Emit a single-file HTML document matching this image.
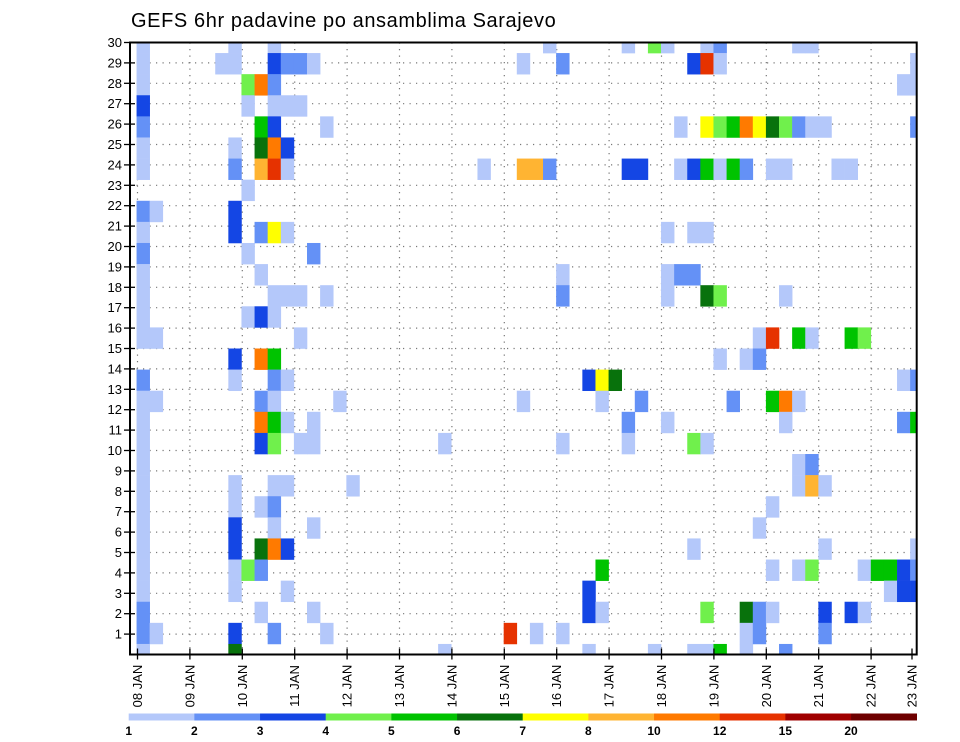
<!DOCTYPE html>
<html><head><meta charset="utf-8">
<style>
html,body{margin:0;padding:0;background:#fff;}
svg{display:block;font-family:"Liberation Sans",sans-serif;}
</style></head>
<body>
<svg id="chart" width="960" height="742" viewBox="0 0 960 742" xmlns="http://www.w3.org/2000/svg">
<text x="131" y="27" font-size="20" fill="#000" style="letter-spacing:0.6px">GEFS 6hr padavine po ansamblima Sarajevo</text>
<defs><clipPath id="plotclip"><rect x="130" y="42.5" width="786.7" height="612"/></clipPath></defs>
<g id="grid"></g>
<g id="cells" clip-path="url(#plotclip)"></g>
<g id="axes"></g>
<g id="legend"></g>
</svg>
<script>
// ---- data ----
const colIdx = [1,2,7,8,9,10,11,12,13,14,15,16,17,24,27,29,30,31,32,33,35,36,37,38,39,40,41,42,43,44,45,46,47,48,49,50,51,52,53,54,55,56,57,58,59,60];
const colRows = [
 [29,28,27,26,25,24,23,21,20,19,18,17,16,15,13,12,11,10,9,8,7,6,5,4,3,2,1,0],
 [21,15,12,1],[28],
 [29,28,24,23,21,20,14,13,8,7,6,5,4,3,1,0],
 [27,26,22,19,16,4],
 [27,25,24,23,20,18,16,14,12,11,10,7,5,4,2],
 [29,28,27,26,25,24,23,20,17,16,14,13,12,11,10,8,7,6,5,1],
 [28,26,24,23,20,17,13,11,8,5,3],
 [28,26,17,15,10],[28,19,11,10,6,2],[25,17,1],[12],[8],
 [10,0],[23],[1],[28,23,12],[23,1],[29,23],[28,18,17,10,1],
 [13,3,2,0],[13,12,4,2],[13],[29,23,11,10],[23,12],[29,0],
 [29,20,18,17,11],[25,23,18],[28,23,20,18,10,5,0],
 [29,28,25,23,20,17,10,2,0],[29,28,25,23,17,14,0],[25,23,12],
 [25,23,14,2,1,0],[25,15,14,6,2,1],[25,23,15,12,7,4,2],
 [25,23,17,12,11,0],[29,25,15,12,9,8,4],[29,25,15,9,8,4],
 [25,8,5,2,1],[23],[23,15,2],[15,4,2],[4],[4,3],[27,13,11,4,3],
 [28,27,25,13,11,5,4,3]
];
const colVals = [
 [1.5,1.5,1.5,3.5,2.5,1.5,1.5,2.5,1.5,2.5,1.5,1.5,1.5,1.5,2.5,1.5,1.5,1.5,1.5,1.5,1.5,1.5,1.5,1.5,1.5,2.5,2.5,1.5],
 [1.5,1.5,1.5,1.5],[1.5],
 [1.5,1.5,1.5,2.5,3.5,3.5,3.5,1.5,1.5,1.5,3.5,3.5,1.5,1.5,3.5,6.5],
 [4.5,1.5,1.5,1.5,1.5,4.5],
 [11,5.5,6.5,9,2.5,1.5,3.5,11,2.5,11,3.5,1.5,6.5,2.5,1.5],
 [1.5,3.5,2.5,1.5,3.5,11,13.5,7.5,1.5,1.5,5.5,2.5,1.5,5.5,4.5,1.5,2.5,1.5,11,2.5],
 [2.5,1.5,3.5,1.5,1.5,1.5,1.5,1.5,1.5,3.5,1.5],
 [2.5,1.5,1.5,1.5,1.5],[1.5,2.5,1.5,1.5,1.5,1.5],[1.5,1.5,1.5],[1.5],[1.5],
 [1.5,1.5],[1.5],[13.5],[1.5,9,1.5],[9,1.5],[1.5,2.5],[2.5,1.5,2.5,1.5,1.5],
 [3.5,3.5,3.5,1.5],[7.5,1.5,5.5,1.5],[6.5],[1.5,3.5,2.5,1.5],[3.5,2.5],[4.5,1.5],
 [1.5,1.5,1.5,1.5,1.5],[1.5,1.5,2.5],[3.5,3.5,1.5,2.5,4.5,1.5,1.5],
 [1.5,13.5,7.5,5.5,1.5,6.5,1.5,4.5,1.5],[2.5,1.5,4.5,1.5,4.5,1.5,5.5],[5.5,5.5,2.5],
 [11,2.5,1.5,6.5,1.5,1.5],[7.5,1.5,2.5,1.5,2.5,2.5],[6.5,1.5,13.5,5.5,1.5,1.5,1.5],
 [4.5,1.5,1.5,11,1.5,2.5],[1.5,2.5,5.5,1.5,1.5,1.5,1.5],[1.5,1.5,1.5,2.5,9,4.5],
 [1.5,1.5,1.5,3.5,2.5],[1.5],[1.5,5.5,3.5],[4.5,1.5,1.5],[5.5],[5.5,1.5],[1.5,1.5,2.5,3.5,3.5],
 [1.5,1.5,2.5,2.5,5.5,1.5,2.5,3.5]
];
const levels = [1,2,3,4,5,6,7,8,10,12,15,20];
const levelColors = ["#b4c8fa","#6491f6","#1446e4","#70f04c","#00c300","#08720c","#ffff00","#ffb432","#ff7a00","#e63200","#a00000","#6e0000"];
const dayLabels = ["08","09","10","11","12","13","14","15","16","17","18","19","20","21","22","23"];
const memberTicks = [1,2,3,4,5,6,7,8,9,10,11,12,13,14,15,16,17,18,19,20,21,22,23,24,25,26,27,28,29,30];

// ---- scales ----
const X0=130, X1=916.7, Y0=42.5, Y1=654.5;
const NSTEP=60, NMEM=29;
const cw=(X1-X0)/NSTEP, ch=(Y1-Y0)/NMEM;
function xCell(k){return X0+k*cw;}
function yCell(j){return Y1-j*ch;}
function xDay(d){return 137.5+d*52.4;}
function yTick(r){return Y1-r*(Y1-Y0)/30;}
function colorFor(v){let c=null;for(let i=0;i<levels.length;i++){if(v>=levels[i])c=levelColors[i];}return c;}
const NS="http://www.w3.org/2000/svg";
function mk(tag,attrs,parent){const e=document.createElementNS(NS,tag);for(const a in attrs)e.setAttribute(a,attrs[a]);parent.appendChild(e);return e;}

const grid=document.getElementById('grid');
const cells=document.getElementById('cells');
const axes=document.getElementById('axes');
const legend=document.getElementById('legend');

// grid lines
memberTicks.forEach(r=>{
  const l=mk('line',{x1:X0,x2:X1,y1:yTick(r),y2:yTick(r),stroke:"#777","stroke-width":1.2,"stroke-dasharray":"1.2 5.3"},grid);
  
  
});
dayLabels.forEach((d,i)=>{
  const x=xDay(i); if(x<=X0+2||x>=X1-2) return;
  const l=mk('line',{x1:x,x2:x,y1:Y0,y2:Y1,stroke:"#777","stroke-width":1.2,"stroke-dasharray":"1.2 5.3"},grid);
  
  
});

// cells
colIdx.forEach((k,ci)=>{
  colRows[ci].forEach((j,ri)=>{
    const v=colVals[ci][ri];
    const r=mk('rect',{x:xCell(k)-cw/2,y:yCell(j)-ch/2,width:cw+0.3,height:ch+0.3,fill:colorFor(v)},cells);
    
    
  });
});

// frame
const fr=mk('rect',{x:X0,y:Y0,width:X1-X0,height:Y1-Y0,fill:"none",stroke:"#000","stroke-width":2},axes);



// y ticks/labels
memberTicks.forEach(r=>{
  const y=yTick(r);
  mk('line',{x1:X0-6,x2:X0+5,y1:y,y2:y,stroke:"#000","stroke-width":1.3},axes);
  const t=mk('text',{x:X0-8,y:y+4.5,"font-size":13,"text-anchor":"end",fill:"#000"},axes);
  t.textContent=r;
  
  
});

// x ticks/labels
dayLabels.forEach((d,i)=>{
  let x=xDay(i);
  if(i===dayLabels.length-1) x=912;
  mk('line',{x1:x,x2:x,y1:Y1-6,y2:Y1+5,stroke:"#000","stroke-width":1.3},axes);
  const t=mk('text',{x:0,y:0,"font-size":13,"text-anchor":"middle",fill:"#000",transform:`translate(${x+4.5},686) rotate(-90)`},axes);
  t.textContent=d+" JAN";
  
  
});

// legend colorbar
const LX0=128.7, LX1=916.7, segW=(LX1-LX0)/levels.length;
levelColors.forEach((c,i)=>{
  const r=mk('rect',{x:LX0+i*segW,y:713.5,width:segW+0.3,height:7,fill:c},legend);
  
  
  const t=mk('text',{x:LX0+i*segW,y:735,"font-size":12,"font-weight":"bold","text-anchor":"middle",fill:"#000"},legend);
  t.textContent=levels[i];
  
  
});
</script>
</body></html>
